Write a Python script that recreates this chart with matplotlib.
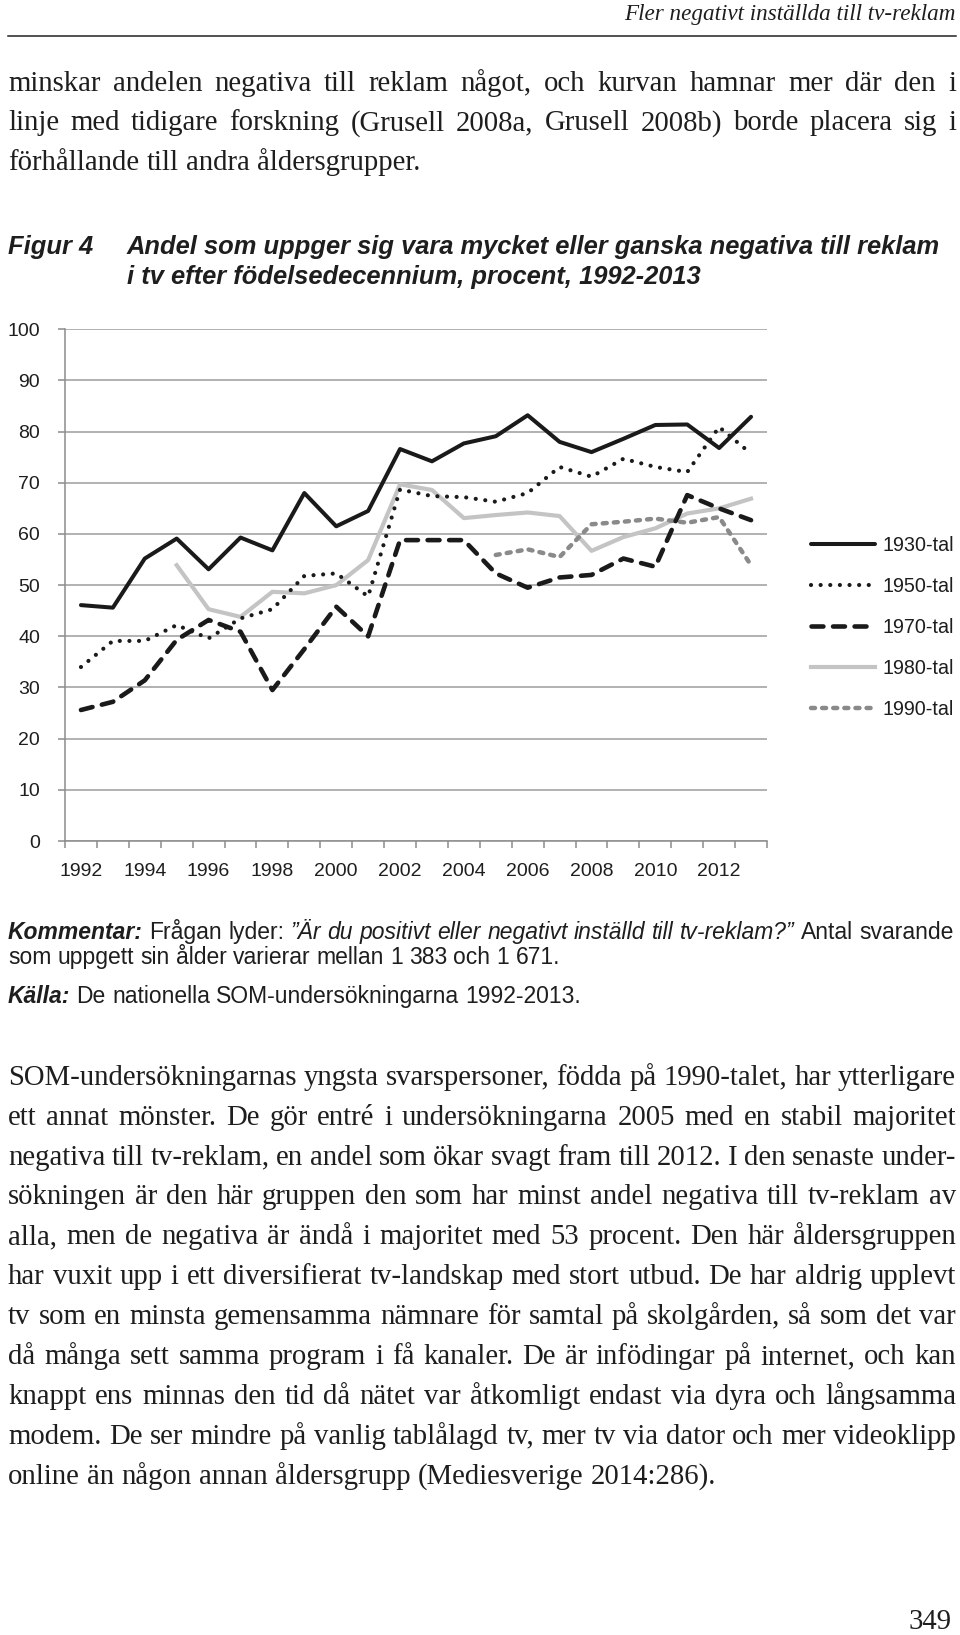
import numpy as np
import matplotlib
matplotlib.use('Agg')
import matplotlib.pyplot as plt
from matplotlib import font_manager

W, H = 960, 1635
DPI = 100

YEARS = list(range(1992, 2014))
NAN = np.nan
S1930 = [46.1, 45.6, 55.2, 59.1, 53.1, 59.3, 56.8, 68.0, 61.5, 64.5, 76.6,
         74.2, 77.7, 79.1, 83.2, 78.0, 76.0, 78.6, 81.3, 81.4, 76.8, 82.9]
S1950 = [34.0, 39.1, 39.1, 42.2, 39.6, 43.5, 45.3, 51.8, 52.3, 47.8, 68.7,
         67.4, 67.2, 66.3, 68.0, 73.1, 71.2, 74.7, 73.1, 72.1, 80.9, 75.7]
S1970 = [25.6, 27.2, 31.4, 39.3, 43.2, 40.9, 29.5, 37.5, 45.8, 40.0, 58.8,
         58.8, 58.8, 52.3, 49.5, 51.5, 52.0, 55.2, 53.6, 67.6, 65.0, 62.7]
S1980 = [NAN, NAN, NAN, 53.9, 45.3, 43.8, 48.7, 48.4, 50.0, 54.9, 69.7,
         68.6, 63.1, 63.7, 64.2, 63.5, 56.7, 59.4, 61.1, 64.0, 65.0, 66.9]
S1990 = [NAN] * 13 + [55.9, 57.0, 55.5, 61.9, 62.4, 63.0, 62.2, 63.3, 53.9]
LABELS = ['1930-tal', '1950-tal', '1970-tal', '1980-tal', '1990-tal']

HEADER = 'Fler negativt inställda till tv-reklam'
PARA1 = ['minskar andelen negativa till reklam något, och kurvan hamnar mer där den i',
         'linje med tidigare forskning (Grusell 2008a, Grusell 2008b) borde placera sig i',
         'förhållande till andra åldersgrupper.']
FIG_NO = 'Figur 4'
TITLE = ['Andel som uppger sig vara mycket eller ganska negativa till reklam',
         'i tv efter födelsedecennium, procent, 1992-2013']
PARA2 = ['SOM-undersökningarnas yngsta svarspersoner, födda på 1990-talet, har ytterligare',
         'ett annat mönster. De gör entré i undersökningarna 2005 med en stabil majoritet',
         'negativa till tv-reklam, en andel som ökar svagt fram till 2012. I den senaste under-',
         'sökningen är den här gruppen den som har minst andel negativa till tv-reklam av',
         'alla, men de negativa är ändå i majoritet med 53 procent. Den här åldersgruppen',
         'har vuxit upp i ett diversifierat tv-landskap med stort utbud. De har aldrig upplevt',
         'tv som en minsta gemensamma nämnare för samtal på skolgården, så som det var',
         'då många sett samma program i få kanaler. De är infödingar på internet, och kan',
         'knappt ens minnas den tid då nätet var åtkomligt endast via dyra och långsamma',
         'modem. De ser mindre på vanlig tablålagd tv, mer tv via dator och mer videoklipp',
         'online än någon annan åldersgrupp (Mediesverige 2014:286).']
PAGE_NO = '349'

installed = {f.name for f in font_manager.fontManager.ttflist}
SERIF = 'Liberation Serif'
SANS = 'Liberation Sans'
NARROW = 'Liberation Sans Narrow' if 'Liberation Sans Narrow' in installed else SANS
INK = '#1e1e1e'

fig = plt.figure(figsize=(W / DPI, H / DPI), dpi=DPI)
fig.patch.set_facecolor('white')
renderer = fig.canvas.get_renderer()


def fx(x):
    return x / W


def fy(y):
    return 1 - y / H


def measure(s, **kw):
    t = fig.text(0, 0, s, **kw)
    w = t.get_window_extent(renderer).width
    t.remove()
    return w


def fit_size(lines, style, width, max_size, space=0.22):
    best = max_size
    for ln in lines:
        words = ln.split()
        nat = sum(measure(w, fontsize=10, **style) for w in words) / 10
        best = min(best, width / (nat + (len(words) - 1) * space / 0.72))
    return best


def put_line(items, x0, y, size, x1=None, space=0.25):
    # items: list of (word, style); justified when x1 is given
    widths = [measure(w, fontsize=size, **st) for w, st in items]
    if x1 is None or len(items) < 2:
        gap = space * size / 0.72
    else:
        gap = (x1 - x0 - sum(widths)) / (len(items) - 1)
    x = x0
    for (w, st), wd in zip(items, widths):
        fig.text(fx(x), fy(y), w, fontsize=size, va='baseline', ha='left',
                 color=INK, **st)
        x += wd + gap


def paragraph(lines, style, x0, x1, y0, step, size):
    for i, ln in enumerate(lines):
        items = [(w, style) for w in ln.split()]
        last = i == len(lines) - 1
        put_line(items, x0, y0 + i * step + 0.27 * size / 0.72, size,
                 None if last else x1)


# header and rule
hstyle = dict(family=SERIF, style='italic')
hsize = 10 * 332 / measure(HEADER, fontsize=10, **hstyle)
fig.text(fx(956), fy(13 + 0.3 * hsize / 0.72), HEADER, fontsize=hsize,
         ha='right', va='baseline', color=INK, **hstyle)
fig.add_artist(plt.Line2D([fx(8), fx(956)], [fy(36.5), fy(36.5)],
                          color='#222222', lw=1.1))

body = dict(family=SERIF)
bsize = fit_size(PARA1[:-1] + PARA2[:-1], body, 948, 22)
paragraph(PARA1, body, 8, 956, 83.4, 39.2, bsize)
paragraph(PARA2, body, 8, 956, 1077, 39.9, bsize)

# figure title
tstyle = dict(family=NARROW, weight='bold', style='italic')
tsize = 10 * 817 / measure(TITLE[0], fontsize=10, **tstyle)
fig.text(fx(8), fy(246 + 0.33 * tsize / 0.72), FIG_NO, fontsize=tsize,
         va='baseline', color=INK, **tstyle)
for i, ln in enumerate(TITLE):
    fig.text(fx(127), fy(246 + 30 * i + 0.33 * tsize / 0.72), ln,
             fontsize=tsize, va='baseline', color=INK, **tstyle)

# chart
ax = fig.add_axes([fx(65), fy(841), (767 - 65) / W, (841 - 329.3) / H])
x = np.arange(len(YEARS))
ax.plot(x, S1930, color='#1a1a1a', lw=2.9, solid_joinstyle='round',
        solid_capstyle='round', label=LABELS[0], zorder=3)
ax.plot(x, S1950, color='#1a1a1a', lw=3.0, linestyle=(0, (0.01, 2.3)),
        dash_capstyle='round', label=LABELS[1], zorder=4)
ax.plot(x, S1970, color='#1a1a1a', lw=3.3, linestyle=(0, (2.6, 2.1)),
        dash_capstyle='round', dash_joinstyle='round', label=LABELS[2], zorder=5)
ax.plot(x, S1980, color='#c4c4c4', lw=3.0, solid_joinstyle='round',
        label=LABELS[3], zorder=2)
ax.plot(x, S1990, color='#8a8a8a', lw=3.2, linestyle=(0, (0.9, 1.6)),
        dash_capstyle='round', label=LABELS[4], zorder=2.5)

ax.set_xlim(-0.5, len(YEARS) - 0.5)
ax.set_ylim(0, 100)
ax.set_yticks(np.arange(0, 101, 10))
ax.set_xticks(x[::2])
ax.set_xticklabels([str(y) for y in YEARS[::2]])
ax.set_xticks(np.arange(-0.5, len(YEARS)), minor=True)
ax.grid(axis='y', color='#9c9c9c', lw=1.1, zorder=0)
for s in ['top', 'right']:
    ax.spines[s].set_visible(False)
for s in ['left', 'bottom']:
    ax.spines[s].set_color('#8c8c8c')
    ax.spines[s].set_linewidth(1.1)
ax.tick_params(axis='y', length=5, width=1.1, color='#8c8c8c', pad=13,
               labelsize=14, labelcolor=INK)
ax.tick_params(axis='x', which='major', length=0, pad=16, labelsize=14,
               labelcolor=INK)
ax.tick_params(axis='x', which='minor', length=5, width=1.1, color='#8c8c8c')
for lab in ax.get_xticklabels() + ax.get_yticklabels():
    lab.set_family(SANS)

ax.legend(loc='upper left', bbox_to_anchor=(fx(811), fy(536)),
          bbox_transform=fig.transFigure, frameon=False, borderpad=0,
          borderaxespad=0, handlelength=3.25, handletextpad=0.35,
          labelspacing=1.12, prop=dict(family=SANS, size=14.2),
          labelcolor=INK)

# comment block
reg = dict(family=NARROW)
ita = dict(family=NARROW, style='italic')
bit = dict(family=NARROW, weight='bold', style='italic')
com1 = [('Kommentar:', bit), ('Frågan', reg), ('lyder:', reg)] + \
       [(w, ita) for w in '”Är du positivt eller negativt inställd till tv-reklam?”'.split()] + \
       [('Antal', reg), ('svarande', reg)]
com2 = [(w, reg) for w in 'som uppgett sin ålder varierar mellan 1 383 och 1 671.'.split()]
src = [('Källa:', bit)] + [(w, reg) for w in 'De nationella SOM-undersökningarna 1992-2013.'.split()]
nat = sum(measure(w, fontsize=10, **st) for w, st in com1) / 10
csize = min(946 / (nat + (len(com1) - 1) * 0.2 / 0.72), 16.5)
cb = 0.33 * csize / 0.72
put_line(com1, 8, 931 + cb, csize, 954)
put_line(com2, 8, 956 + cb, csize, space=0.27)
put_line(src, 8, 995.4 + cb, csize, space=0.27)

fig.text(fx(952), fy(1620 + 0.3 * bsize / 0.72), PAGE_NO, fontsize=bsize,
         ha='right', va='baseline', color=INK, family=SERIF)

fig.savefig('out.png', dpi=DPI, facecolor='white')
